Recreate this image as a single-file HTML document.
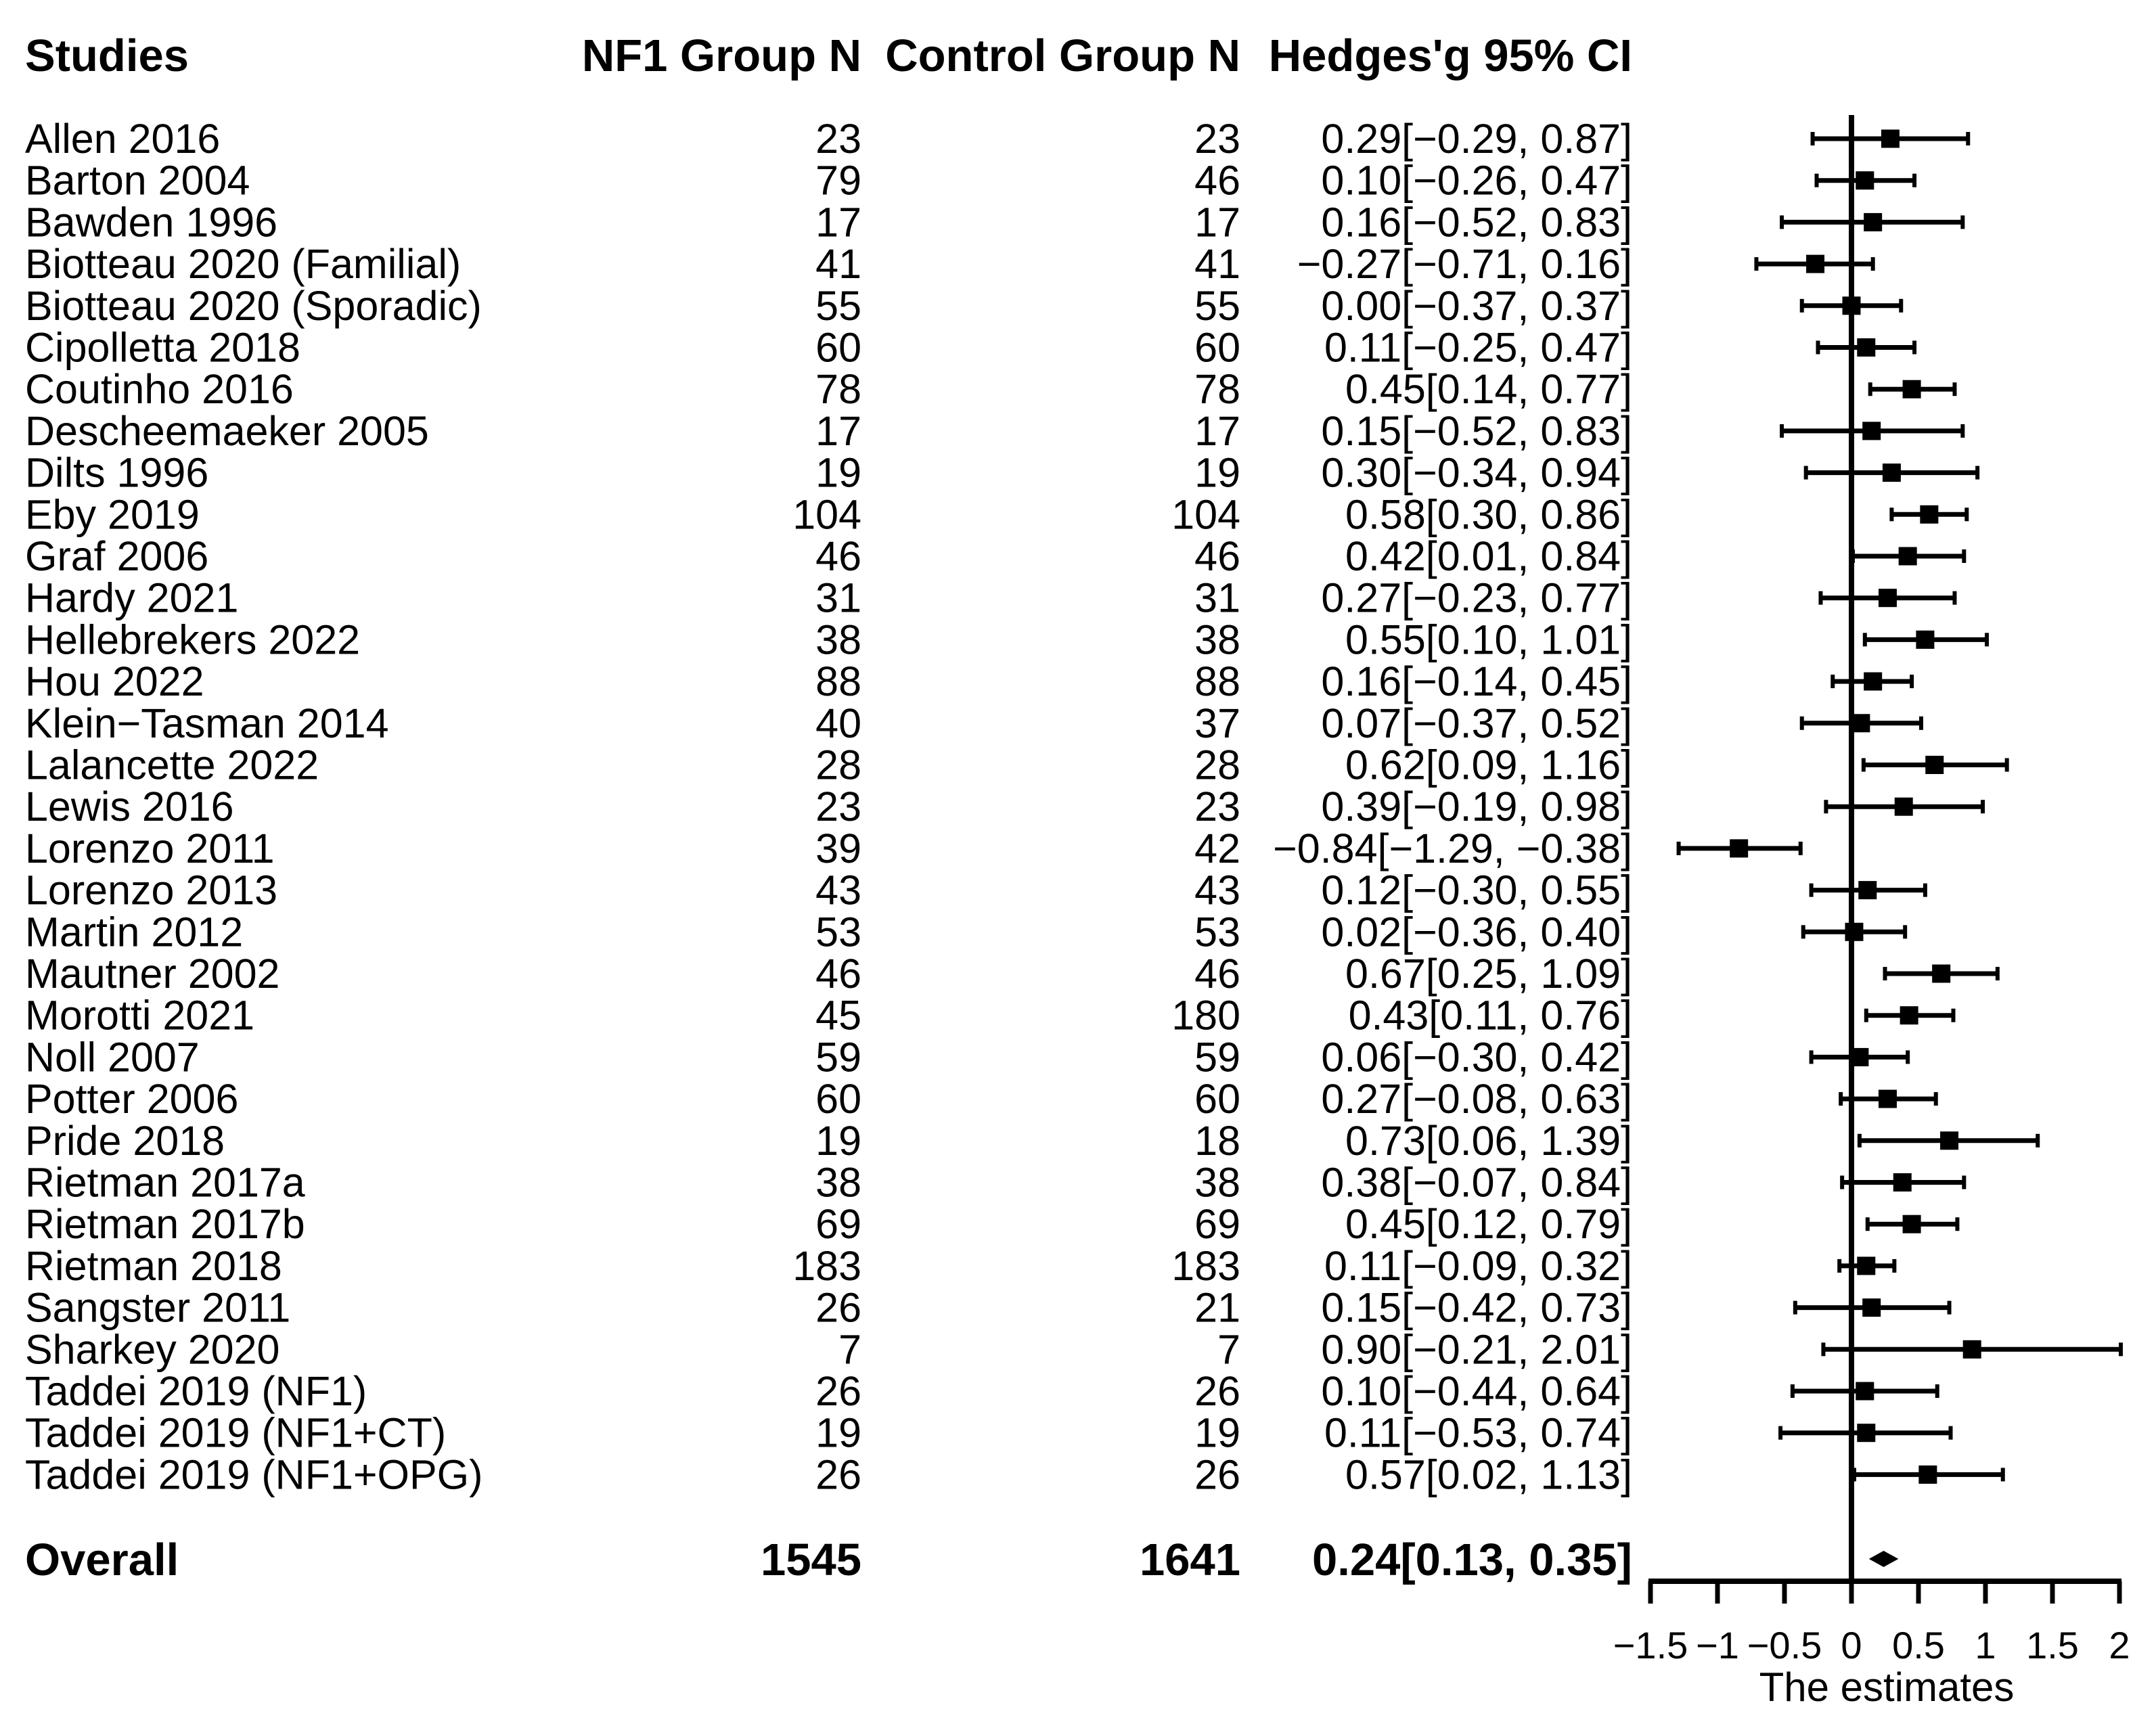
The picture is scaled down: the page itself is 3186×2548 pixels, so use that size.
<!DOCTYPE html>
<html><head><meta charset="utf-8"><style>
html,body{margin:0;padding:0;background:#fff}
svg{display:block}
text{font-family:"Liberation Sans",Arial,sans-serif;fill:#000}
</style></head><body>
<svg id="chart" width="3186" height="2548" viewBox="0 0 3186 2548" xmlns="http://www.w3.org/2000/svg"></svg>
<script>
const studies=["Allen 2016","Barton 2004","Bawden 1996","Biotteau 2020 (Familial)","Biotteau 2020 (Sporadic)","Cipolletta 2018","Coutinho 2016","Descheemaeker 2005","Dilts 1996","Eby 2019","Graf 2006","Hardy 2021","Hellebrekers 2022","Hou 2022","Klein\u2212Tasman 2014","Lalancette 2022","Lewis 2016","Lorenzo 2011","Lorenzo 2013","Martin 2012","Mautner 2002","Morotti 2021","Noll 2007","Potter 2006","Pride 2018","Rietman 2017a","Rietman 2017b","Rietman 2018","Sangster 2011","Sharkey 2020","Taddei 2019 (NF1)","Taddei 2019 (NF1+CT)","Taddei 2019 (NF1+OPG)"];
const nf1N=[23,79,17,41,55,60,78,17,19,104,46,31,38,88,40,28,23,39,43,53,46,45,59,60,19,38,69,183,26,7,26,19,26];
const ctrlN=[23,46,17,41,55,60,78,17,19,104,46,31,38,88,37,28,23,42,43,53,46,180,59,60,18,38,69,183,21,7,26,19,26];
const est=[0.29,0.10,0.16,-0.27,0.00,0.11,0.45,0.15,0.30,0.58,0.42,0.27,0.55,0.16,0.07,0.62,0.39,-0.84,0.12,0.02,0.67,0.43,0.06,0.27,0.73,0.38,0.45,0.11,0.15,0.90,0.10,0.11,0.57];
const lower=[-0.29,-0.26,-0.52,-0.71,-0.37,-0.25,0.14,-0.52,-0.34,0.30,0.01,-0.23,0.10,-0.14,-0.37,0.09,-0.19,-1.29,-0.30,-0.36,0.25,0.11,-0.30,-0.08,0.06,-0.07,0.12,-0.09,-0.42,-0.21,-0.44,-0.53,0.02];
const upper=[0.87,0.47,0.83,0.16,0.37,0.47,0.77,0.83,0.94,0.86,0.84,0.77,1.01,0.45,0.52,1.16,0.98,-0.38,0.55,0.40,1.09,0.76,0.42,0.63,1.39,0.84,0.79,0.32,0.73,2.01,0.64,0.74,1.13];
const overallEst=0.24, overallLo=0.13, overallHi=0.35;
const overallN1=1545, overallN2=1641;
const ticks=[-1.5,-1,-0.5,0,0.5,1,1.5,2];
const tickLabels=["\u22121.5","\u22121","\u22120.5","0","0.5","1","1.5","2"];

const svg=document.getElementById('chart');
const NS='http://www.w3.org/2000/svg';
const x=v=>2736+v*198;
const y=i=>205+i*61.7;
const fmt=v=>(v<0?'\u2212':'')+Math.abs(v).toFixed(2);
function mk(tag,attrs,txt){const e=document.createElementNS(NS,tag);for(const k in attrs)e.setAttribute(k,attrs[k]);if(txt!==undefined)e.textContent=txt;svg.appendChild(e);return e;}

let e;
e=mk('text',{x:37,y:105,'font-size':67,'font-weight':'bold'},'Studies');


e=mk('text',{x:1273,y:105,'font-size':67,'font-weight':'bold','text-anchor':'end'},'NF1 Group N');


e=mk('text',{x:1833,y:105,'font-size':67,'font-weight':'bold','text-anchor':'end'},'Control Group N');


e=mk('text',{x:2412,y:105,'font-size':67,'font-weight':'bold','text-anchor':'end'},"Hedges'g 95% CI");



e=mk('line',{x1:x(0),y1:170,x2:x(0),y2:2337,stroke:'#000','stroke-width':8});



studies.forEach((s,i)=>{
  const yy=y(i), base=yy+21;
  let t=mk('text',{x:37,y:base,'font-size':61},s);
  
  
  t=mk('text',{x:1273,y:base,'font-size':61,'text-anchor':'end'},String(nf1N[i]));
  
  
  t=mk('text',{x:1833,y:base,'font-size':61,'text-anchor':'end'},String(ctrlN[i]));
  
  
  t=mk('text',{x:2412,y:base,'font-size':61,'text-anchor':'end'},fmt(est[i])+'['+fmt(lower[i])+', '+fmt(upper[i])+']');
  
  
  let l=mk('line',{x1:x(lower[i]),y1:yy,x2:x(upper[i]),y2:yy,stroke:'#000','stroke-width':7});
  
  
  l=mk('line',{x1:x(lower[i]),y1:yy-10,x2:x(lower[i]),y2:yy+10,stroke:'#000','stroke-width':6});
  
  
  l=mk('line',{x1:x(upper[i]),y1:yy-10,x2:x(upper[i]),y2:yy+10,stroke:'#000','stroke-width':6});
  
  
  const r=mk('rect',{x:x(est[i])-13.5,y:yy-13.5,width:27,height:27,fill:'#000'});
  
  
});

const oy=2304, ob=oy+24;
e=mk('text',{x:37,y:ob,'font-size':67,'font-weight':'bold'},'Overall');


e=mk('text',{x:1273,y:ob,'font-size':67,'font-weight':'bold','text-anchor':'end'},String(overallN1));


e=mk('text',{x:1833,y:ob,'font-size':67,'font-weight':'bold','text-anchor':'end'},String(overallN2));


e=mk('text',{x:2412,y:ob,'font-size':67,'font-weight':'bold','text-anchor':'end'},fmt(overallEst)+'['+fmt(overallLo)+', '+fmt(overallHi)+']');


e=mk('polygon',{points:`${x(overallLo)},${oy} ${x(overallEst)},${oy-12} ${x(overallHi)},${oy} ${x(overallEst)},${oy+12}`,fill:'#000'});



e=mk('line',{x1:x(ticks[0])-3,y1:2337,x2:x(ticks[ticks.length-1])+3,y2:2337,stroke:'#000','stroke-width':8});


ticks.forEach((v,i)=>{
  let l=mk('line',{x1:x(v),y1:2337,x2:x(v),y2:2370,stroke:'#000','stroke-width':7});
  
  
  let t=mk('text',{x:x(v),y:2451,'font-size':56,'text-anchor':'middle'},tickLabels[i]);
  
  
});
e=mk('text',{x:2788,y:2514,'font-size':60,'text-anchor':'middle'},'The estimates');


</script>
</body></html>
